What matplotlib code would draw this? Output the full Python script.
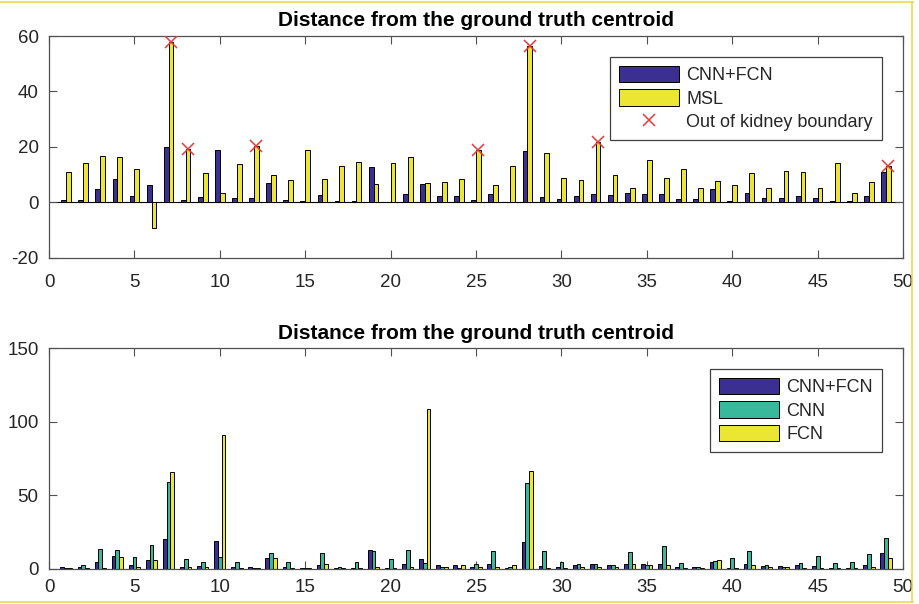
import numpy as np
import matplotlib
matplotlib.use("Agg")
import matplotlib.pyplot as plt
from matplotlib.lines import Line2D

plt.rcParams['font.family'] = ['Liberation Sans', 'DejaVu Sans']
plt.rcParams['axes.unicode_minus'] = False

# ---------------- data ----------------
cases = list(range(1, 50))

cnn_fcn = [1.0, 1.0, 4.9, 8.4, 2.2, 6.1, 20.0, 0.9, 1.8, 19.0,
           1.5, 1.5, 7.1, 0.9, 0.4, 2.7, 0.3, 0.4, 12.8, 0.2,
           3.0, 6.6, 2.2, 2.2, 0.9, 3.0, 0.2, 18.5, 1.8, 1.3,
           2.2, 3.0, 2.7, 3.5, 3.0, 3.0, 1.2, 1.2, 4.7, 0.4,
           3.5, 1.7, 1.7, 2.2, 1.7, 0.4, 0.4, 2.2, 10.9]

msl = [11.0, 14.1, 16.8, 16.3, 12.0, -9.3, 58.0, 19.3, 10.6, 3.2,
       13.7, 20.5, 9.8, 7.9, 19.0, 8.4, 13.2, 14.5, 6.6, 14.1,
       16.3, 7.1, 7.4, 8.4, 19.0, 6.1, 13.2, 56.4, 17.9, 8.8,
       7.9, 21.8, 9.7, 5.2, 15.4, 8.7, 12.2, 5.2, 7.8, 6.1,
       10.4, 5.2, 11.4, 10.9, 5.2, 14.3, 3.4, 7.4, 13.0]

out_of_boundary = [7, 8, 12, 25, 28, 32, 49]

cnn = [0.5, 2.3, 13.6, 12.9, 7.9, 16.3, 59.0, 6.6, 4.8, 7.9,
       4.8, 0.5, 10.4, 4.8, 0.5, 10.4, 1.4, 4.8, 12.0, 6.3,
       12.9, 3.9, 1.4, 0.5, 2.9, 12.0, 1.4, 58.0, 12.0, 4.8,
       2.9, 2.9, 2.3, 11.3, 2.3, 15.4, 3.9, 1.4, 5.4, 7.0,
       12.0, 2.3, 1.4, 3.9, 8.8, 3.9, 4.8, 9.8, 21.1]

fcn = [0.5, 0.5, 0.5, 8.2, 1.4, 5.7, 65.5, 1.4, 1.4, 90.9,
       0.2, 0.5, 7.0, 0.5, 0.5, 2.9, 0.2, 0.5, 1.4, 0.2,
       1.4, 109.0, 1.4, 2.3, 1.4, 1.4, 2.3, 66.2, 0.5, 0.5,
       1.4, 1.4, 1.4, 2.9, 2.3, 2.3, 0.5, 0.5, 5.9, 0.2,
       2.3, 1.4, 1.4, 0.5, 0.5, 0.2, 0.5, 1.4, 7.0]

title_text = "Distance from the ground truth centroid"
top_labels = ["CNN+FCN", "MSL", "Out of kidney boundary"]
bottom_labels = ["CNN+FCN", "CNN", "FCN"]

# ---------------- style ----------------
C_BLUE = '#3b2f92'
C_TEAL = '#38b99b'
C_YEL = '#ebe634'
C_RED = '#e4393c'
AX_COL = '#505050'
TXT_COL = '#262626'

fig = plt.figure(figsize=(9.2, 6.04), dpi=100)
ax1 = fig.add_axes([0.0533, 0.5733, 0.9283, 0.367])
ax2 = fig.add_axes([0.0533, 0.0584, 0.9283, 0.365])

x = np.array(cases, dtype=float)

# top chart
w1 = 0.28
h_a = ax1.bar(x - w1 / 2, cnn_fcn, width=w1, color=C_BLUE, edgecolor='black',
              linewidth=0.7, label=top_labels[0], zorder=2)
h_b = ax1.bar(x + w1 / 2, msl, width=w1, color=C_YEL, edgecolor='black',
              linewidth=0.7, label=top_labels[1], zorder=2)
ob_x = np.array(out_of_boundary, dtype=float)
ob_y = [msl[i - 1] for i in out_of_boundary]
h_c, = ax1.plot(ob_x + w1 / 2, ob_y, linestyle='none', marker='x', color=C_RED,
                markersize=9, markeredgewidth=1.1, label=top_labels[2], zorder=3)
ax1.axhline(0, color='black', linewidth=0.8, zorder=1)
ax1.set_xlim(0, 50)
ax1.set_ylim(-20, 60)
ax1.set_yticks([-20, 0, 20, 40, 60])

# bottom chart
w2 = 0.22
g_a = ax2.bar(x - w2, cnn_fcn, width=w2, color=C_BLUE, edgecolor='black',
              linewidth=0.7, label=bottom_labels[0], zorder=2)
g_b = ax2.bar(x, cnn, width=w2, color=C_TEAL, edgecolor='black',
              linewidth=0.7, label=bottom_labels[1], zorder=2)
g_c = ax2.bar(x + w2, fcn, width=w2, color=C_YEL, edgecolor='black',
              linewidth=0.7, label=bottom_labels[2], zorder=2)
ax2.set_xlim(0, 50)
ax2.set_ylim(0, 150)
ax2.set_yticks([0, 50, 100, 150])

for ax, xpad, hands, labs in ((ax1, 12, [h_a, h_b, h_c], top_labels),
                              (ax2, 7.5, [g_a, g_b, g_c], bottom_labels)):
    ax.set_xticks(np.arange(0, 51, 5))
    for s in ax.spines.values():
        s.set_color(AX_COL)
        s.set_linewidth(0.9)
    ax.tick_params(axis='both', which='both', direction='in', length=6,
                   width=0.8, color=AX_COL, labelcolor=TXT_COL,
                   labelsize=13.5, top=True, right=True)
    ax.tick_params(axis='x', pad=xpad)
    ax.tick_params(axis='y', pad=7.5)
    ax.set_title(title_text, fontsize=15, fontweight='bold', color='black', pad=7)
    leg = ax.legend(hands, labs, loc='upper right', bbox_to_anchor=(0.975, 0.907),
                    borderaxespad=0, fontsize=13, frameon=True, fancybox=False,
                    edgecolor='#404040', framealpha=1, handlelength=3.3,
                    handleheight=1.0, handletextpad=0.4, labelspacing=0.3,
                    borderpad=0.5, numpoints=1)
    leg.get_frame().set_linewidth(0.9)
    for t in leg.get_texts():
        t.set_color(TXT_COL)

# thin yellow frame of the screenshot
W, H = 920.0, 604.0
fc = '#f3d34c'
fig.add_artist(Line2D([0, 913 / W], [1 - 1.5 / H, 1 - 1.5 / H], color=fc, lw=1.1, transform=fig.transFigure))
fig.add_artist(Line2D([912.5 / W, 912.5 / W], [2 / H, 1 - 1.5 / H], color=fc, lw=1.1, transform=fig.transFigure))
fig.add_artist(Line2D([0, 913 / W], [2 / H, 2 / H], color=fc, lw=1.1, transform=fig.transFigure))

fig.savefig('out.png', dpi=100)
